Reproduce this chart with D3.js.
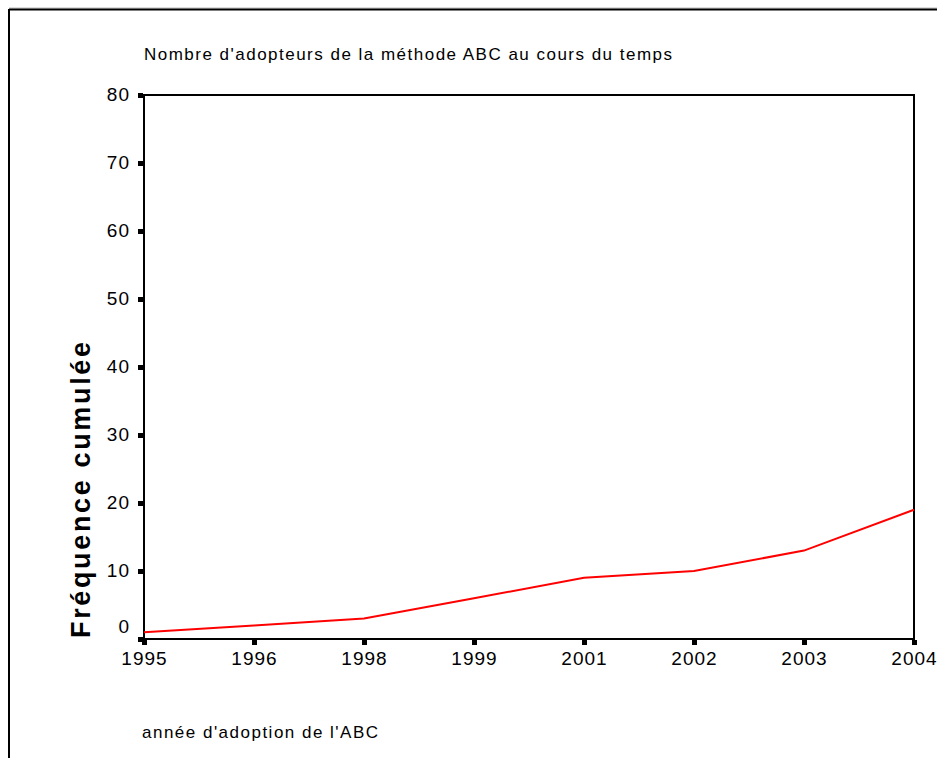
<!DOCTYPE html>
<html>
<head>
<meta charset="utf-8">
<script src="https://cdn.jsdelivr.net/npm/d3@7"></script>
<style>
  body { margin: 0; background: #fff; }
  text { font-family: "Liberation Sans", Arial, sans-serif; fill: #000; }
</style>
</head>
<body>
<div id="chart"></div>
<script>
// Cumulative adopters of ABC method
const years = ["1995", "1996", "1998", "1999", "2001", "2002", "2003", "2004"];
const cumFreq = [1, 2, 3, 6, 9, 10, 13, 19];
const yTicks = [0, 10, 20, 30, 40, 50, 60, 70, 80];

const chartTitle = "Nombre d'adopteurs de la méthode ABC au cours du temps";
const xTitle = "année d'adoption de l'ABC";
const yTitle = "Fréquence cumulée";

const width = 937;
const height = 758;
const margin = { top: 95, right: 23, bottom: 119, left: 144 };

const svg = d3.select("#chart")
    .append("svg")
    .attr("width", width)
    .attr("height", height);

// outer frame (only top and left visible)
svg.append("line").attr("x1", 9).attr("x2", width).attr("y1", 8).attr("y2", 8)
    .attr("stroke", "#bbb").attr("stroke-width", 1);
svg.append("line").attr("x1", 9).attr("x2", width).attr("y1", 9.5).attr("y2", 9.5)
    .attr("stroke", "#000").attr("stroke-width", 2);
svg.append("line").attr("x1", 9).attr("x2", 9).attr("y1", 9).attr("y2", height)
    .attr("stroke", "#000").attr("stroke-width", 2);

const x = d3.scalePoint()
    .domain(years)
    .range([margin.left, width - margin.right]);

const y = d3.scaleLinear()
    .domain([0, 80])
    .range([height - margin.bottom, margin.top]);

// plot box
svg.append("rect")
    .attr("x", margin.left)
    .attr("y", margin.top)
    .attr("width", width - margin.right - margin.left)
    .attr("height", height - margin.bottom - margin.top)
    .attr("fill", "none")
    .attr("stroke", "#000")
    .attr("stroke-width", 2);

// y axis: square tick marks
const yAxis = svg.append("g")
    .attr("transform", `translate(${margin.left - 1},0)`)
    .call(d3.axisLeft(y).tickValues(yTicks).tickSize(5).tickPadding(8));
yAxis.select(".domain").remove();
yAxis.selectAll(".tick line").attr("stroke", "#000").attr("stroke-width", 5);
yAxis.selectAll(".tick text")
    .style("font-size", "19px")
    .style("letter-spacing", "1px")
    .attr("dy", d => d === 0 ? "-0.35em" : "0.3em");

// x axis
const xAxis = svg.append("g")
    .attr("transform", `translate(0,${height - margin.bottom + 1})`)
    .call(d3.axisBottom(x).tickSize(5).tickPadding(7));
xAxis.select(".domain").remove();
xAxis.selectAll(".tick line").attr("stroke", "#000").attr("stroke-width", 5);
xAxis.selectAll(".tick text")
    .style("font-size", "19px")
    .style("letter-spacing", "1px");

// the line
const line = d3.line()
    .x((d, i) => x(years[i]))
    .y(d => y(d));

svg.append("path")
    .datum(cumFreq)
    .attr("fill", "none")
    .attr("stroke", "#ff0000")
    .attr("stroke-width", 2)
    .attr("d", line);

// titles
svg.append("text")
    .attr("x", 144)
    .attr("y", 60)
    .attr("textLength", 528)
    .style("font-size", "17px")
    .text(chartTitle);

svg.append("text")
    .attr("x", 142)
    .attr("y", 738)
    .attr("textLength", 236)
    .style("font-size", "17px")
    .text(xTitle);

svg.append("text")
    .attr("transform", "translate(90,490) rotate(-90)")
    .attr("text-anchor", "middle")
    .attr("textLength", 296)
    .style("font-size", "27px")
    .style("font-weight", "bold")
    .text(yTitle);
</script>
</body>
</html>
